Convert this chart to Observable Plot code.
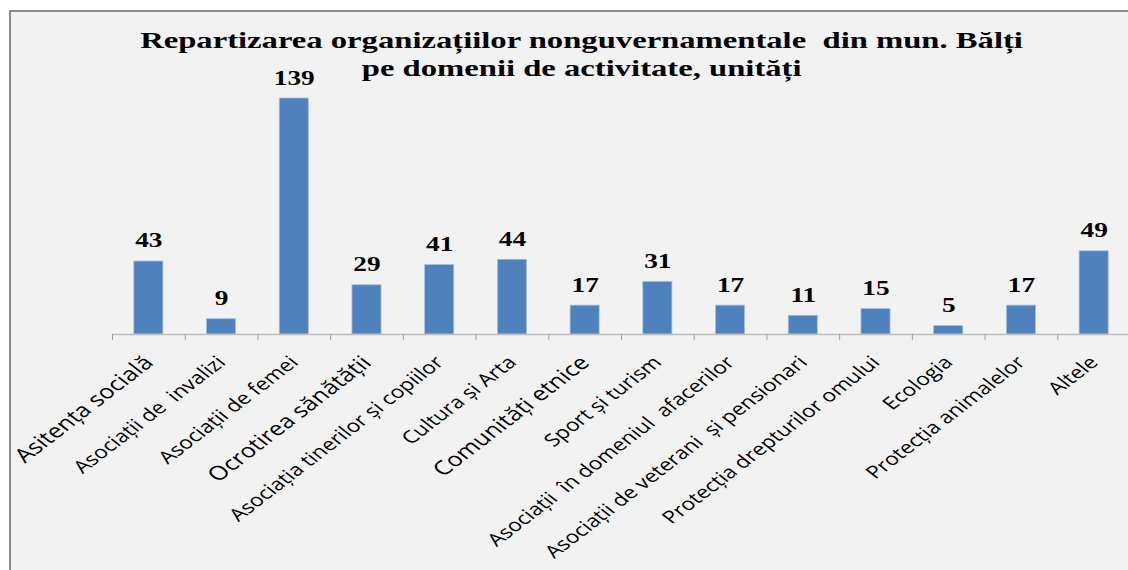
<!DOCTYPE html>
<html><head><meta charset="utf-8">
<script src="https://cdn.jsdelivr.net/npm/d3@7"></script>
<script src="https://cdn.jsdelivr.net/npm/@observablehq/plot@0.6"></script>
<style>
body{margin:0;background:#fff;}
#wrap{position:relative;width:1128px;height:570px;overflow:hidden;}
#frame{position:absolute;left:9px;top:10px;width:1200px;height:600px;border-left:2px solid #8a8a8a;border-top:2px solid #8a8a8a;background:#f2f2f2;}
#chart{position:absolute;left:0;top:0;}
.tl{position:absolute;left:0;width:1164px;text-align:center;font:bold 24px "Liberation Serif",serif;line-height:28.7px;color:#000;white-space:pre;}
.tl span{display:inline-block;transform:scaleX(1.36);transform-origin:center;}
</style></head>
<body>
<div id="wrap">
  <div id="frame"></div>
  <div id="chart"></div>
  <div class="tl" style="top:25.5px"><span>Repartizarea organizațiilor nonguvernamentale  din mun. Bălți</span></div>
  <div class="tl" style="top:54.2px"><span>pe domenii de activitate, unități</span></div>
</div>
<script>
const categories = [
  "Asitența socială",
  "Asociații de  invalizi",
  "Asociații de femei",
  "Ocrotirea sănătății",
  "Asociația tinerilor și copiilor",
  "Cultura și Arta",
  "Comunități etnice",
  "Sport și turism",
  "Asociații  în domeniul  afacerilor",
  "Asociații de veterani  și pensionari",
  "Protecția drepturilor omului",
  "Ecologia",
  "Protecția animalelor",
  "Altele"
];
const values = [43, 9, 139, 29, 41, 44, 17, 31, 17, 11, 15, 5, 17, 49];

const data = categories.map((c, i) => ({c, v: values[i]}));
const bigLabels = new Set([categories[0], categories[3], categories[6]]);
const xRange = [112, 1130];
const step = (xRange[1] - xRange[0]) / categories.length;

const chart = Plot.plot({
  width: 1128,
  height: 570,
  marginLeft: 112,
  marginRight: 0,
  style: {background: "transparent", overflow: "visible"},
  x: {domain: categories, range: xRange, paddingInner: 0.6, paddingOuter: 0.3, round: false, axis: null},
  y: {domain: [0, 139], range: [334, 98], axis: null},
  marks: [
    Plot.barY(data, {x: "c", y: "v", fill: "#4f81bd", stroke: "#a9c0e0", strokeWidth: 0.8}),
    Plot.ruleY([0], {stroke: "#bdbdbd", strokeWidth: 1.5}),
    Plot.ruleX(categories, {x: d => d, y1: () => 0, y2: () => 0, insetBottom: -6, dx: -step / 2, stroke: "#a0a0a0"}),
    Plot.text(data, {x: "c", y: "v", text: d => String(d.v), dy: -14, lineAnchor: "bottom",
      fontFamily: "Liberation Serif", fontWeight: "bold", fontSize: 21, fill: "#000"}),
    Plot.text(data, {x: "c", y: () => 0, text: "c", textAnchor: "end", lineAnchor: "middle", rotate: -45,
      dy: 25, dx: 0, fontFamily: "Open Sans", fontSize: d => bigLabels.has(d.c) ? 19.5 : 17.5, fill: "#000"})
  ]
});
document.getElementById("chart").appendChild(chart);
// horizontal stretch of text, as in the reference picture
chart.querySelectorAll("text").forEach(t => {
  let tr = t.getAttribute("transform");
  if (tr) {
    if (tr.includes("rotate(")) tr = tr.replace("rotate(", "scale(1.3,1) rotate(");
    else tr = tr + " scale(1.3,1)";
    t.setAttribute("transform", tr);
  } else {
    const x = t.getAttribute("x") || 0, y = t.getAttribute("y") || 0;
    t.removeAttribute("x"); t.removeAttribute("y");
    t.setAttribute("transform", `translate(${x},${y}) scale(1.3,1)`);
  }
});
</script>
</body></html>
